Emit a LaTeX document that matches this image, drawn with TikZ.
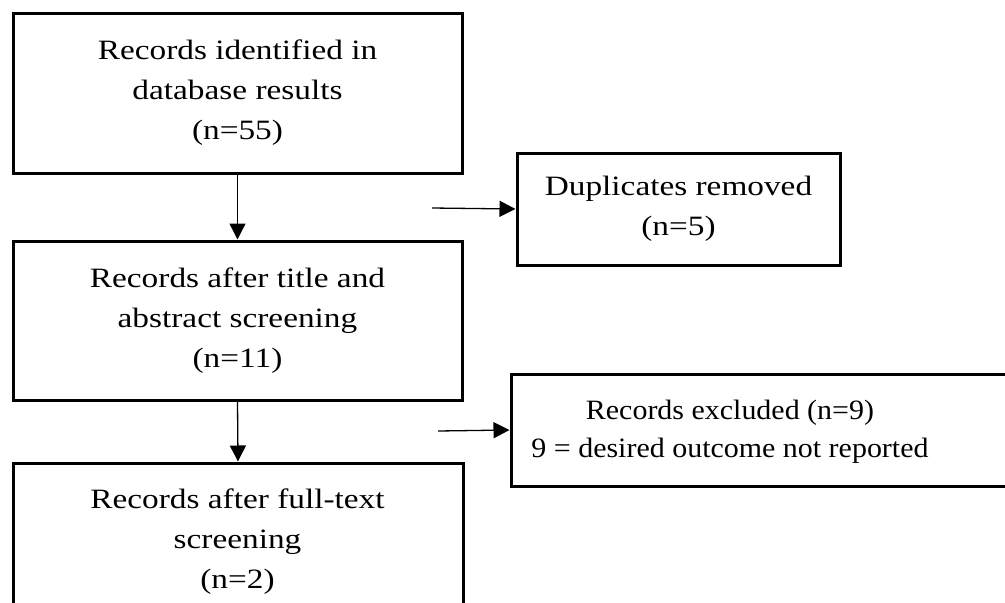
\documentclass[tikz,border=0pt]{standalone}
\usepackage{fontspec}
\setmainfont[FakeStretch=1.19]{Liberation Serif}
\newfontfamily\narrowserif[FakeStretch=1.07]{Liberation Serif}
\usetikzlibrary{arrows.meta}
\begin{document}
\begin{tikzpicture}[x=1pt,y=-1pt,
  box/.style={draw=black, line width=3pt, inner sep=0pt, align=center,
    font=\fontsize{28}{40}\selectfont},
  txt/.style={inner sep=0pt, align=center, font=\fontsize{28}{40}\selectfont},
  conn/.style={line width=1.3pt, -{Triangle[length=16pt,width=16pt]}}]
\useasboundingbox (0,0) rectangle (1005,603);
\clip (0,0) rectangle (1005,603);
\fill[white] (0,0) rectangle (1005,603);
% boxes
\node[box, minimum width=449pt, minimum height=160pt] (b1) at (237.5,93)
  {Records identified in\\database results\\(n=55)};
\node[box, minimum width=323pt, minimum height=112pt] (b2) at (678.5,209)
  {Duplicates removed\\(n=5)};
\node[box, minimum width=449pt, minimum height=159pt] (b3) at (237.5,320.5)
  {Records after title and\\abstract screening\\(n=11)};
\node[box, minimum width=503pt, minimum height=112pt] (b4) at (762.5,430) {};
\node[txt, font=\narrowserif\fontsize{28}{38}\selectfont] (t4) at (730,432)
  {Records excluded (n=9)\\9 = desired outcome not reported};
\node[box, minimum width=450pt, minimum height=200pt] (b5) at (238,563) {};
\node[txt, anchor=north] (t5) at (237.5,489) {Records after full-text\\screening\\(n=2)};
% connectors
\coordinate (s1) at (432,208);
\coordinate (s2) at (438,431);
\draw[conn] (b1.south) -- (b3.north);
\draw[conn] (b3.south) -- (b5.north);
\draw[conn] (s1) -- (b2.west);
\draw[conn] (s2) -- (b4.west);
\end{tikzpicture}
\end{document}
